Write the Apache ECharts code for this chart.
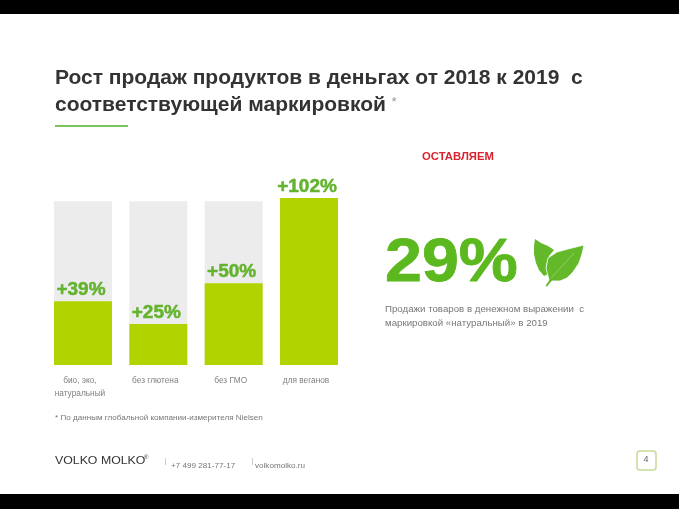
<!DOCTYPE html>
<html><head><meta charset="utf-8">
<style>html,body{margin:0;padding:0;background:#fff}#c{width:679px;height:509px}</style>
<script src="https://cdn.jsdelivr.net/npm/echarts@6/dist/echarts.min.js"></script>
</head><body><div id="c"></div>
<script>
const categories = ['био, эко,\nнатуральный', 'без глютена', 'без ГМО', 'для веганов'];
const growth = [39, 25, 50, 102];
const backdrop = [100, 100, 100, 100];
const F = '"Liberation Sans", Arial, sans-serif';
const chart = echarts.init(document.getElementById('c'), null, {renderer:'canvas'});
function T(x,y,text,size,color,weight,extra){
  return Object.assign({type:'text',x,y,silent:true,style:{text,font:(weight||'normal')+' '+size+'px '+F,fill:color,textVerticalAlign:'middle'}},extra||{});
}
chart.setOption({
  animation:false,
  backgroundColor:'#fff',
  grid:{left:45.3,top:198,width:301.4,height:167,containLabel:false},
  xAxis:{type:'category',data:categories,axisLine:{show:false},axisTick:{show:false},
    axisLabel:{interval:0,margin:9,color:'#808080',fontFamily:F,fontSize:8.3,lineHeight:13,padding:[0,6,0,0]}},
  yAxis:{type:'value',min:0,max:102,show:false,splitLine:{show:false}},
  series:[
    {type:'bar',data:backdrop,barWidth:58,barGap:'-100%',itemStyle:{color:'#ececec'},silent:true},
    {type:'bar',data:growth,barWidth:58,barGap:'-100%',itemStyle:{color:'#b1d400'},silent:true,
     label:{show:true,position:'top',distance:2,offset:[-2,0],formatter:'+{c}%',color:'#63b32e',fontFamily:F,fontWeight:'bold',fontSize:19,textBorderColor:'#63b32e',textBorderWidth:0.5}}
  ],
  graphic:[
    {type:'rect',shape:{x:0,y:0,width:679,height:14},style:{fill:'#000'},silent:true},
    {type:'rect',shape:{x:0,y:494,width:679,height:15},style:{fill:'#000'},silent:true},
    T(55,78.5,'Рост продаж продуктов в деньгах от 2018 к 2019  с',21,'#333','bold'),
    T(55,105.5,'соответствующей маркировкой',21,'#333','bold'),
    T(391,102,'*',13,'#999','italic'),
    {type:'rect',shape:{x:55,y:125,width:73,height:2},style:{fill:'#7cc35a'},silent:true},
    T(422,157,'ОСТАВЛЯЕМ',11.3,'#d9232e','bold'),
    {type:'text',x:385,y:264,scaleX:1.07,silent:true,style:{text:'29%',font:'bold 62px '+F,fill:'#5cb81f',stroke:'#5cb81f',lineWidth:0.8,textVerticalAlign:'middle'}},
    {type:'polygon',silent:true,shape:{points:[[535,239],[541,243],[548,246],[554,250],[549,256],[547,262],[546,268],[548,274],[544,276],[539,270],[536,263],[534,254],[534,246]]},style:{fill:'#63b92a'}},
    {type:'polygon',silent:true,shape:{points:[[584,245],[582,254],[579,263],[573,272],[567,278],[560,281],[552,281],[547,287],[545,286],[549,280],[546,268],[548,258],[557,252],[568,249],[576,247]]},style:{fill:'#63b92a',stroke:'#fff',lineWidth:0.8}},
    {type:'line',silent:true,shape:{x1:551,y1:278,x2:574,y2:253},style:{stroke:'#a9d98a',lineWidth:0.6}},
    T(385,309.5,'Продажи товаров в денежном выражении  с',9.7,'#777'),
    T(385,323,'маркировкой «натуральный» в 2019',9.7,'#777'),
    T(55,418,'* По данным глобальной компании-измерителя Nielsen',8.1,'#777'),
    {type:'text',x:55,y:461,scaleX:1.12,silent:true,style:{text:'VOLKO MOLKO',font:'normal 11px '+F,fill:'#333',textVerticalAlign:'middle'}},
    T(144,457,'®',6,'#333'),
    {type:'rect',shape:{x:165,y:458,width:1,height:7},style:{fill:'#ccc'},silent:true},
    T(171,465.5,'+7 499 281-77-17',8.1,'#777'),
    {type:'rect',shape:{x:252,y:458,width:1,height:7},style:{fill:'#ccc'},silent:true},
    T(255,465.5,'volkomolko.ru',8.1,'#777'),
    {type:'rect',shape:{x:637,y:451,width:19,height:19,r:3},style:{fill:'#fff',stroke:'#c8da96',lineWidth:1.5},silent:true},
    T(643.5,459.5,'4',9,'#666')
  ]
});
</script></body></html>
